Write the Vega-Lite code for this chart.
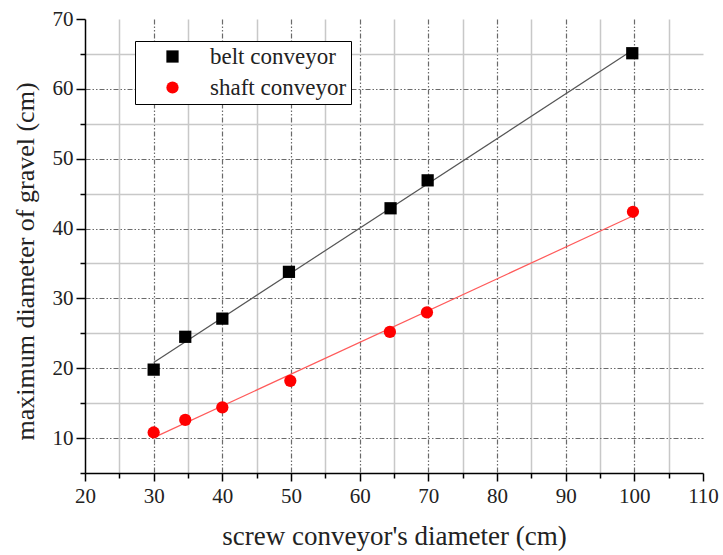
{
  "$schema": "https://vega.github.io/schema/vega-lite/v6.json",
  "autosize": {"type": "none"},
  "padding": {"left": 85, "top": 19, "right": 20, "bottom": 82},
  "width": 618,
  "height": 454,
  "background": "white",
  "config": {
    "view": {"stroke": null},
    "font": "Liberation Serif"
  },
  "data": {
    "values": [
      {"series": "belt conveyor", "x": 30, "y": 19.8},
      {"series": "belt conveyor", "x": 34.6, "y": 24.5},
      {"series": "belt conveyor", "x": 40, "y": 27.1},
      {"series": "belt conveyor", "x": 49.7, "y": 33.8},
      {"series": "belt conveyor", "x": 64.5, "y": 42.9},
      {"series": "belt conveyor", "x": 69.9, "y": 46.9},
      {"series": "belt conveyor", "x": 99.7, "y": 65.1},
      {"series": "shaft conveyor", "x": 30, "y": 10.8},
      {"series": "shaft conveyor", "x": 34.6, "y": 12.6},
      {"series": "shaft conveyor", "x": 40, "y": 14.4},
      {"series": "shaft conveyor", "x": 49.9, "y": 18.2},
      {"series": "shaft conveyor", "x": 64.4, "y": 25.2},
      {"series": "shaft conveyor", "x": 69.8, "y": 28.0},
      {"series": "shaft conveyor", "x": 99.8, "y": 42.4}
    ]
  },
  "encoding": {
    "x": {
      "field": "x", "type": "quantitative",
      "scale": {"domain": [20, 110], "nice": false, "zero": false},
      "axis": {
        "title": "screw conveyor's diameter (cm)",
        "values": [20, 25, 30, 35, 40, 45, 50, 55, 60, 65, 70, 75, 80, 85, 90, 95, 100, 105, 110],
        "labelExpr": "datum.value % 10 === 0 ? datum.label : ''",
        "labelPadding": 4, "labelFlush": false,
        "labelFont": "serif", "labelFontSize": 21, "labelColor": "#222",
        "titleFont": "Liberation Serif", "titleFontSize": 27, "titleFontWeight": "normal", "titleColor": "#222",
        "titlePadding": 17,
        "domainColor": "black", "domainWidth": 1.5,
        "tickColor": "black", "tickWidth": 1.5,
        "tickSize": {"condition": {"test": "datum.value % 10 === 0", "value": 8}, "value": 5},
        "grid": true,
        "gridColor": {"condition": {"test": "datum.value % 10 === 0", "value": "#6a6a6a"}, "value": "#c8c8c8"},
        "gridDash": {"condition": {"test": "datum.value % 10 === 0", "value": [5, 2, 1.5, 2, 1.5, 2]}, "value": []},
        "gridWidth": {"condition": {"test": "datum.value % 10 === 0", "value": 1.2}, "value": 1.5},
        "gridOpacity": {"condition": {"test": "datum.value === 110 || datum.value === 20", "value": 0}, "value": 1}
      }
    },
    "y": {
      "field": "y", "type": "quantitative",
      "scale": {"domain": [5, 70], "nice": false, "zero": false},
      "axis": {
        "title": "maximum diameter of gravel (cm)",
        "values": [5, 10, 15, 20, 25, 30, 35, 40, 45, 50, 55, 60, 65, 70],
        "labelExpr": "datum.value % 10 === 0 ? datum.label : ''",
        "labelPadding": 3, "labelFlush": false,
        "labelFont": "serif", "labelFontSize": 21, "labelColor": "#222",
        "titleFont": "Liberation Serif", "titleFontSize": 26, "titleFontWeight": "normal", "titleColor": "#222",
        "titlePadding": 14, "titleY": 242,
        "domainColor": "black", "domainWidth": 1.5,
        "tickColor": "black", "tickWidth": 1.5,
        "tickSize": {"condition": {"test": "datum.value % 10 === 0", "value": 9}, "value": 5},
        "grid": true,
        "gridColor": {"condition": {"test": "datum.value % 10 === 0", "value": "#6a6a6a"}, "value": "#c8c8c8"},
        "gridDash": {"condition": {"test": "datum.value % 10 === 0", "value": [5, 2, 1.5, 2, 1.5, 2]}, "value": []},
        "gridWidth": {"condition": {"test": "datum.value % 10 === 0", "value": 1.2}, "value": 1.5},
        "gridOpacity": {"condition": {"test": "datum.value === 70 || datum.value === 5", "value": 0}, "value": 1}
      }
    }
  },
  "layer": [
    {
      "transform": [
        {"filter": "datum.series === 'belt conveyor'"},
        {"regression": "y", "on": "x", "extent": [30, 100]}
      ],
      "mark": {"type": "line", "strokeWidth": 1.2, "color": "#555555"}
    },
    {
      "transform": [
        {"filter": "datum.series === 'shaft conveyor'"},
        {"regression": "y", "on": "x", "extent": [30, 100]}
      ],
      "mark": {"type": "line", "strokeWidth": 1.2, "color": "#ff5a5a"}
    },
    {
      "mark": {"type": "point", "filled": true, "size": 150, "opacity": 1},
      "encoding": {
        "color": {
          "field": "series", "type": "nominal",
          "scale": {"domain": ["belt conveyor", "shaft conveyor"], "range": ["black", "#ff0000"]},
          "legend": {
            "title": null,
            "orient": "none", "legendX": 50, "legendY": 22,
            "strokeColor": "black", "fillColor": "white",
            "padding": 4, "rowPadding": 7,
            "symbolOffset": 22, "labelOffset": 26,
            "symbolSize": 150, "labelLimit": 400,
            "labelFont": "serif", "labelFontSize": 23, "labelColor": "#222"
          }
        },
        "shape": {
          "field": "series", "type": "nominal",
          "scale": {"domain": ["belt conveyor", "shaft conveyor"], "range": ["square", "circle"]}
        }
      }
    }
  ]
}
